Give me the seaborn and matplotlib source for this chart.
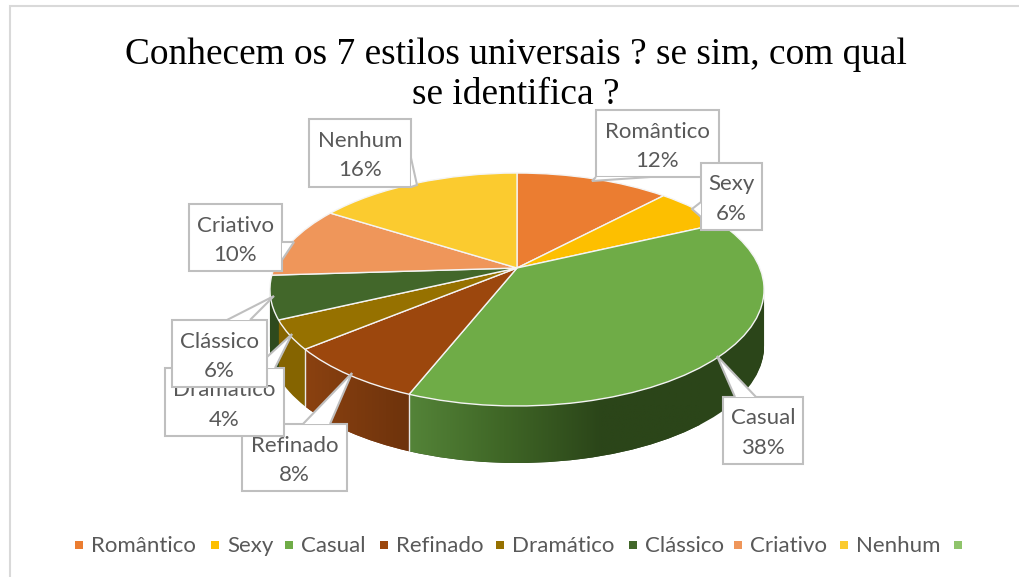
import numpy as np
import matplotlib
matplotlib.use("Agg")
import matplotlib.pyplot as plt
import seaborn as sns
from matplotlib.colors import LinearSegmentedColormap
from matplotlib.path import Path
from matplotlib.patches import PathPatch, Polygon, Rectangle
from matplotlib.transforms import Transform

# data
estilos = ['Romântico', 'Sexy', 'Casual', 'Refinado', 'Dramático', 'Clássico', 'Criativo', 'Nenhum']
percent = [12, 6, 38, 8, 4, 6, 10, 16]
cores = ['#EB7D31', '#FDBF00', '#6FAC47', '#9C470D', '#967100', '#42672A', '#EF965A', '#FBCB2F']
cores_lado = ['#A65722', '#B28600', '#2B4519', '#7A380F', '#856400', '#2E4A1D', '#A86A3F', '#B28F24']
cor_extra = '#8FC46B'
titulo = 'Conhecem os 7 estilos universais ? se sim, com qual\nse identifica ?'

sns.set_theme(style="white")
plt.rcParams['font.family'] = ['Lato', 'DejaVu Sans']

# layout of the fake 3D pie, in pixels
CX, CY, PROF = 517, 268, 57
A, B, C = 112.5, 242.8, 0.1845
CINZA = '#595959'
BORDA = '#BFBFBF'


class Perspectiva(Transform):
    # tilts the unit pie; dz pushes it down for the side wall
    input_dims = 2
    output_dims = 2

    def __init__(self, dz=0):
        super().__init__()
        self.dz = dz

    def transform_non_affine(self, values):
        values = np.asarray(values, dtype=float)
        d = 1 + C * values[:, 1]
        return np.column_stack([CX + B * values[:, 0] / d,
                                CY + self.dz - A * values[:, 1] / d])


fig, ax = plt.subplots(figsize=(10.19, 5.77), dpi=100)
fig.subplots_adjust(0, 0, 1, 1)

# side wall: same pie repeated, one pixel lower each time
caminhos = {nome: [] for nome in estilos}
for dz in range(PROF, 0, -1):
    wedges, _ = ax.pie(percent, colors=cores_lado, startangle=90, counterclock=False, radius=1,
                       wedgeprops={'linewidth': 0, 'zorder': 1})
    pt = Perspectiva(dz)
    for w, nome in zip(wedges, estilos):
        w.set_transform(pt + ax.transData)
        caminhos[nome].append(pt.transform_path_non_affine(w.get_path()))

# gradients on the two visible front walls, Casual has to go over Refinado
gradientes = {
    'Refinado': (['#8C4210', '#7C3A0E', '#6C320C'], 300, 415, 340, 460),
    'Casual': (['#558539', '#3F6626', '#2B4519', '#2B4519'], 405, 700, 340, 470),
}
for nome, (stops, x0, x1, y0, y1) in gradientes.items():
    cmap = LinearSegmentedColormap.from_list(nome, stops)
    im = ax.imshow(np.linspace(0, 1, 256)[None, :], cmap=cmap, extent=(x0, x1, y1, y0),
                   aspect='auto', zorder=2)
    clip = PathPatch(Path.make_compound_path(*caminhos[nome]), transform=ax.transData)
    im.set_clip_path(clip)

# white seams on the front of the wall
acum = np.cumsum(percent) / np.sum(percent)
for frac in [acum[2], acum[3]]:
    t = np.pi / 2 - 2 * np.pi * frac
    borda = Perspectiva().transform_non_affine(np.array([[np.cos(t), np.sin(t)]]))[0]
    ax.plot([borda[0], borda[0]], [borda[1], borda[1] + PROF], color='#E8E8E8', lw=1, zorder=2.5)

# top face
wedges, _ = ax.pie(percent, colors=cores, startangle=90, counterclock=False, radius=1,
                   wedgeprops={'linewidth': 1, 'edgecolor': '#F4F4F4', 'zorder': 3})
for w in wedges:
    w.set_transform(Perspectiva() + ax.transData)

ax.set_xlim(0, 1019)
ax.set_ylim(577, 0)
ax.set_aspect('auto')
ax.axis('off')

# chart border, only left and top reach the picture
ax.plot([10, 10, 1019], [577, 6, 6], color='#D9D9D9', lw=1.5, zorder=0.5,
        solid_joinstyle='miter')

ax.text(516, 74.5, titulo, ha='center', va='center', fontsize=26.9, color='black',
        family='Liberation Serif', linespacing=1.2, zorder=4)

# callouts: box, tail
caixas = {
    'Romântico': ((596, 110, 719, 177), [(596, 177), (592, 181), (650, 177)]),
    'Sexy': ((701, 163, 762, 230), [(701, 202), (692, 209), (701, 217)]),
    'Casual': ((723, 397, 803, 464), [(735, 397), (717, 356), (756, 397)]),
    'Refinado': ((242, 424, 347, 491), [(303, 424), (352, 373), (330, 424)]),
    'Dramático': ((165, 368, 284, 436), [(255, 368), (292, 334), (275, 368)]),
    'Clássico': ((172, 320, 267, 387), [(227, 320), (274, 296), (250, 320)]),
    'Criativo': ((189, 204, 282, 271), [(282, 242), (294, 242), (282, 260)]),
    'Nenhum': ((309, 119, 411, 187), [(411, 158), (417, 185), (411, 187)]),
}
for i, nome in enumerate(estilos):
    (x0, y0, x1, y1), cauda = caixas[nome]
    z = 5 + i
    ax.add_patch(Rectangle((x0, y0), x1 - x0, y1 - y0, fc='white', ec=BORDA, lw=1.5, zorder=z))
    ax.add_patch(Polygon(cauda, closed=True, fc='white', ec='none', zorder=z))
    ax.add_patch(Polygon(cauda, closed=False, fc='none', ec=BORDA, lw=1.5, zorder=z, joinstyle='miter'))
    xc = (x0 + x1) / 2
    ax.text(xc, (y0 + y1) / 2 - 12, nome, ha='center', va='center', fontsize=16, color=CINZA, zorder=z)
    ax.text(xc, (y0 + y1) / 2 + 17.5, f'{percent[i]}%', ha='center', va='center', fontsize=16, color=CINZA, zorder=z)

# legend
leg_x = [79, 215, 289, 384, 500, 633, 738, 844, 958]
for x, nome, cor in zip(leg_x, estilos + [''], cores + [cor_extra]):
    ax.add_patch(Rectangle((x - 4, 541), 8, 8, fc=cor, ec='none', zorder=4))
    if nome:
        ax.text(x + 12.5, 546.5, nome, ha='left', va='center', fontsize=16, color=CINZA, zorder=4)

fig.savefig('out.png', dpi=100)
